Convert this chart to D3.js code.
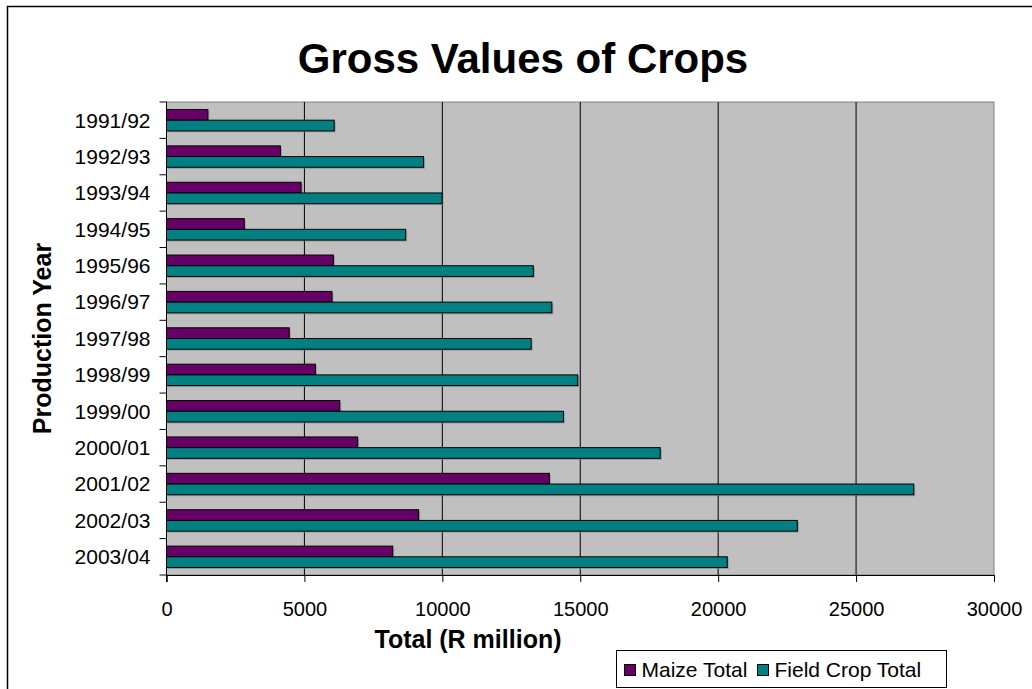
<!DOCTYPE html>
<html lang="en">

<head>
  <meta charset="UTF-8">
  <title>Gross Values of Crops</title>
  <script src="https://d3js.org/d3.v7.min.js"></script>
  <style>
    body {
      margin: 0;
      background: #fff;
    }

    text {
      font-family: Arial, "Liberation Sans", sans-serif;
    }
  </style>
</head>

<body>
  <div id="chart"></div>

  <script>
    // values (R million)
    const years = ["1991/92", "1992/93", "1993/94", "1994/95", "1995/96", "1996/97", "1997/98",
      "1998/99", "1999/00", "2000/01", "2001/02", "2002/03", "2003/04"];
    const maizeTotal = [1500, 4130, 4880, 2820, 6050, 6000, 4450, 5400, 6280, 6930, 13880, 9140, 8200];
    const fieldCropTotal = [6080, 9320, 9990, 8670, 13300, 13970, 13220, 14910, 14390, 17900, 27090, 22870, 20330];
    const xTicks = [0, 5000, 10000, 15000, 20000, 25000, 30000];
    const seriesNames = ["Maize Total", "Field Crop Total"];
    const seriesColors = ["#660066", "#008080"];

    const W = 1032, H = 689;
    const margin = { top: 102, right: 38, bottom: 114, left: 166.5 };
    const width = W - margin.left - margin.right;
    const height = H - margin.top - margin.bottom;

    const svg = d3.select("#chart")
      .append("svg")
      .attr("width", W)
      .attr("height", H);

    // outer chart border (right and bottom fall outside the picture)
    svg.append("rect")
      .attr("x", 7.5)
      .attr("y", 6.5)
      .attr("width", W + 20)
      .attr("height", H + 20)
      .attr("fill", "none")
      .attr("stroke", "#000")
      .attr("stroke-width", 1.5);

    svg.append("text")
      .attr("x", 523)
      .attr("y", 73)
      .attr("text-anchor", "middle")
      .style("font-size", "42px")
      .style("font-weight", "bold")
      .text("Gross Values of Crops");

    const g = svg.append("g")
      .attr("transform", `translate(${margin.left},${margin.top})`);

    const x = d3.scaleLinear()
      .domain([0, 30000])
      .range([0, width]);

    const y = d3.scaleBand()
      .domain(years)
      .range([0, height])
      .padding(0);

    const ySeries = d3.scaleBand()
      .domain(seriesNames)
      .range([0, y.bandwidth()])
      .paddingInner(0)
      .paddingOuter(0.7);

    // plot area
    g.append("rect")
      .attr("width", width)
      .attr("height", height)
      .attr("fill", "#c0c0c0")
      .attr("stroke", "#808080")
      .attr("stroke-width", 1);

    // vertical gridlines
    g.selectAll(".grid")
      .data(xTicks.slice(1, -1))
      .enter().append("line")
      .attr("class", "grid")
      .attr("x1", d => x(d))
      .attr("x2", d => x(d))
      .attr("y1", 0)
      .attr("y2", height)
      .attr("stroke", "#000")
      .attr("stroke-width", 1);

    const rows = years.map((yr, i) => ({ year: yr, values: [maizeTotal[i], fieldCropTotal[i]] }));

    const row = g.selectAll(".row")
      .data(rows)
      .enter().append("g")
      .attr("class", "row")
      .attr("transform", d => `translate(0,${y(d.year)})`);

    // light shadow behind bars
    row.selectAll(".shadow")
      .data(d => d.values.map((v, k) => ({ v, k })))
      .enter().append("rect")
      .attr("class", "shadow")
      .attr("x", 1.5)
      .attr("y", d => ySeries(seriesNames[d.k]) + 1.5)
      .attr("width", d => x(d.v))
      .attr("height", ySeries.bandwidth())
      .attr("fill", "#808080")
      .attr("opacity", 0.6);

    row.selectAll(".bar")
      .data(d => d.values.map((v, k) => ({ v, k })))
      .enter().append("rect")
      .attr("class", "bar")
      .attr("x", 0)
      .attr("y", d => ySeries(seriesNames[d.k]))
      .attr("width", d => x(d.v))
      .attr("height", ySeries.bandwidth())
      .attr("fill", d => seriesColors[d.k])
      .attr("stroke", "#000")
      .attr("stroke-width", 1);

    // x axis
    const xAxis = g.append("g")
      .attr("transform", `translate(0,${height})`)
      .call(d3.axisBottom(x).tickValues(xTicks).tickSize(7).tickPadding(20).tickFormat(d3.format("d")));
    xAxis.select(".domain").attr("stroke", "#000");
    xAxis.selectAll("text").style("font-size", "20px").attr("fill", "#000");

    // y axis: ticks on category boundaries
    const yAxis = g.append("g");
    yAxis.append("line")
      .attr("x1", 0).attr("x2", 0)
      .attr("y1", 0).attr("y2", height + 7)
      .attr("stroke", "#000");
    yAxis.selectAll(".ytick")
      .data(years.concat(["end"]))
      .enter().append("line")
      .attr("class", "ytick")
      .attr("x1", -7).attr("x2", 0)
      .attr("y1", (d, i) => i * y.step())
      .attr("y2", (d, i) => i * y.step())
      .attr("stroke", "#000");
    yAxis.selectAll(".ylabel")
      .data(years)
      .enter().append("text")
      .attr("class", "ylabel")
      .attr("x", -16)
      .attr("y", d => y(d) + y.bandwidth() / 2)
      .attr("dy", "0.35em")
      .attr("text-anchor", "end")
      .style("font-size", "21px")
      .text(d => d);

    // axis titles
    svg.append("text")
      .attr("x", 468)
      .attr("y", 648)
      .attr("text-anchor", "middle")
      .style("font-size", "25px")
      .style("font-weight", "bold")
      .text("Total (R million)");

    svg.append("text")
      .attr("transform", "rotate(-90)")
      .attr("x", -(margin.top + height / 2))
      .attr("y", 51)
      .attr("text-anchor", "middle")
      .style("font-size", "25px")
      .style("font-weight", "bold")
      .text("Production Year");

    // legend
    const legend = svg.append("g").attr("transform", "translate(616.5,650.5)");
    legend.append("rect")
      .attr("width", 330)
      .attr("height", 37)
      .attr("fill", "#fff")
      .attr("stroke", "#000");

    const legendX = [8, 141];
    const item = legend.selectAll(".item")
      .data(seriesNames)
      .enter().append("g")
      .attr("class", "item")
      .attr("transform", (d, i) => `translate(${legendX[i]},0)`);
    item.append("rect")
      .attr("y", 14)
      .attr("width", 11)
      .attr("height", 11)
      .attr("fill", (d, i) => seriesColors[i])
      .attr("stroke", "#000");
    item.append("text")
      .attr("x", 17)
      .attr("y", 26)
      .style("font-size", "21px")
      .text(d => d);
  </script>
</body>

</html>
